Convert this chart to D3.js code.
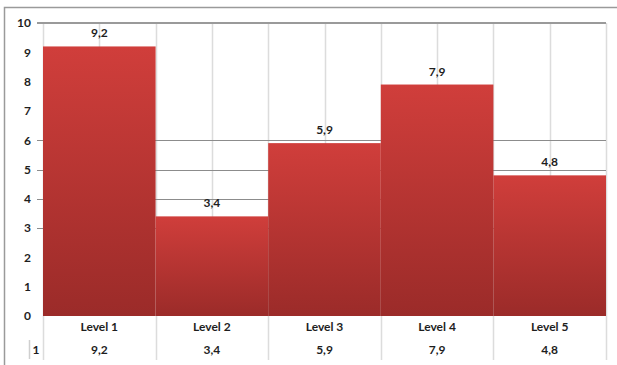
<!DOCTYPE html>
<html>
<head>
<meta charset="utf-8">
<script src="https://cdn.jsdelivr.net/npm/d3@7/dist/d3.min.js"></script>
<style>
  body { margin: 0; background: #fff; }
  svg text { font-family: Lato, "Open Sans", sans-serif; font-weight: bold; fill: #1e1e1e; }
</style>
</head>
<body>
<svg id="chart" width="617" height="365"></svg>
<script>
// chart data
const categories = ['Level 1', 'Level 2', 'Level 3', 'Level 4', 'Level 5'];
const values = [9.2, 3.4, 5.9, 7.9, 4.8];
const seriesName = '1';
const yTicks = [0, 1, 2, 3, 4, 5, 6, 7, 8, 9, 10];
const gridValues = [3, 4, 5, 6]; // only these show in the original

const fmt = (v) => String(v).replace('.', ',');

const margin = { top: 23, right: 11, bottom: 49, left: 43 };
const width = 617;
const height = 365;

const svg = d3.select('#chart');

const x = d3.scaleBand()
  .domain(categories)
  .range([margin.left, width - margin.right])
  .padding(0);

const y = d3.scaleLinear()
  .domain([0, 10])
  .range([height - margin.bottom, margin.top]);

// gradient for the bars
const grad = svg.append('defs').append('linearGradient')
  .attr('id', 'barGrad')
  .attr('x1', 0).attr('y1', 0).attr('x2', 0).attr('y2', 1);
grad.append('stop').attr('offset', '0%').attr('stop-color', '#d03e3b');
grad.append('stop').attr('offset', '100%').attr('stop-color', '#9b2b29');

// outer frame (left and top edge only are visible)
svg.append('path')
  .attr('d', `M4.5,${height} V7.5 H${width}`)
  .attr('fill', 'none')
  .attr('stroke', '#9a9a9a')
  .attr('stroke-width', 1.5);

// vertical grid: band edges run down through the table, centres only in plot
const edges = categories.map((c) => x(c)).concat([x.range()[1]]);
svg.append('g')
  .selectAll('line')
  .data(edges)
  .join('line')
  .attr('x1', (d) => Math.round(d) + 0.5)
  .attr('x2', (d) => Math.round(d) + 0.5)
  .attr('y1', y(10))
  .attr('y2', height - 5)
  .attr('stroke', '#dcdcdc')
  .attr('stroke-width', 1.5);

svg.append('g')
  .selectAll('line')
  .data(categories)
  .join('line')
  .attr('x1', (d) => Math.round(x(d) + x.bandwidth() / 2) + 0.5)
  .attr('x2', (d) => Math.round(x(d) + x.bandwidth() / 2) + 0.5)
  .attr('y1', y(10))
  .attr('y2', y(0))
  .attr('stroke', '#dcdcdc')
  .attr('stroke-width', 1.5);

// horizontal grid
svg.append('g')
  .selectAll('line')
  .data(gridValues)
  .join('line')
  .attr('x1', margin.left - 6)
  .attr('x2', x.range()[1])
  .attr('y1', (d) => Math.round(y(d)) + 0.5)
  .attr('y2', (d) => Math.round(y(d)) + 0.5)
  .attr('stroke', '#8c8c8c')
  .attr('stroke-width', 1);

svg.append('line')
  .attr('x1', margin.left - 6)
  .attr('x2', x.range()[1])
  .attr('y1', y(10))
  .attr('y2', y(10))
  .attr('stroke', '#9a9a9a')
  .attr('stroke-width', 2);

// bars
svg.append('g')
  .selectAll('rect')
  .data(values)
  .join('rect')
  .attr('x', (d, i) => x(categories[i]))
  .attr('y', (d) => y(d))
  .attr('width', x.bandwidth())
  .attr('height', (d) => y(0) - y(d))
  .attr('fill', 'url(#barGrad)');

// value labels
svg.append('g')
  .selectAll('text')
  .data(values)
  .join('text')
  .attr('x', (d, i) => x(categories[i]) + x.bandwidth() / 2)
  .attr('y', (d) => y(d) - 9)
  .attr('text-anchor', 'middle')
  .style('font-size', '12px')
  .text(fmt);

// y axis labels
const yAxis = svg.append('g')
  .attr('transform', `translate(${margin.left - 12},0)`)
  .call(d3.axisLeft(y).tickValues(yTicks).tickSize(0).tickPadding(0));
yAxis.select('.domain').remove();
yAxis.selectAll('text')
  .style('font-size', '12px')
  .style('font-family', 'Lato, "Open Sans", sans-serif')
  .attr('fill', '#1e1e1e');

// data table below the chart
svg.append('g')
  .selectAll('text')
  .data(categories)
  .join('text')
  .attr('x', (d) => x(d) + x.bandwidth() / 2)
  .attr('y', 331)
  .attr('text-anchor', 'middle')
  .style('font-size', '12px')
  .text((d) => d);

svg.append('g')
  .selectAll('text')
  .data(values)
  .join('text')
  .attr('x', (d, i) => x(categories[i]) + x.bandwidth() / 2)
  .attr('y', 354)
  .attr('text-anchor', 'middle')
  .style('font-size', '12px')
  .text(fmt);

svg.append('line')
  .attr('x1', 29.5).attr('x2', 29.5)
  .attr('y1', 340).attr('y2', 359)
  .attr('stroke', '#cfcfcf')
  .attr('stroke-width', 1.5);

svg.append('text')
  .attr('x', 36)
  .attr('y', 354)
  .attr('text-anchor', 'middle')
  .style('font-size', '12px')
  .text(seriesName);
</script>
</body>
</html>
